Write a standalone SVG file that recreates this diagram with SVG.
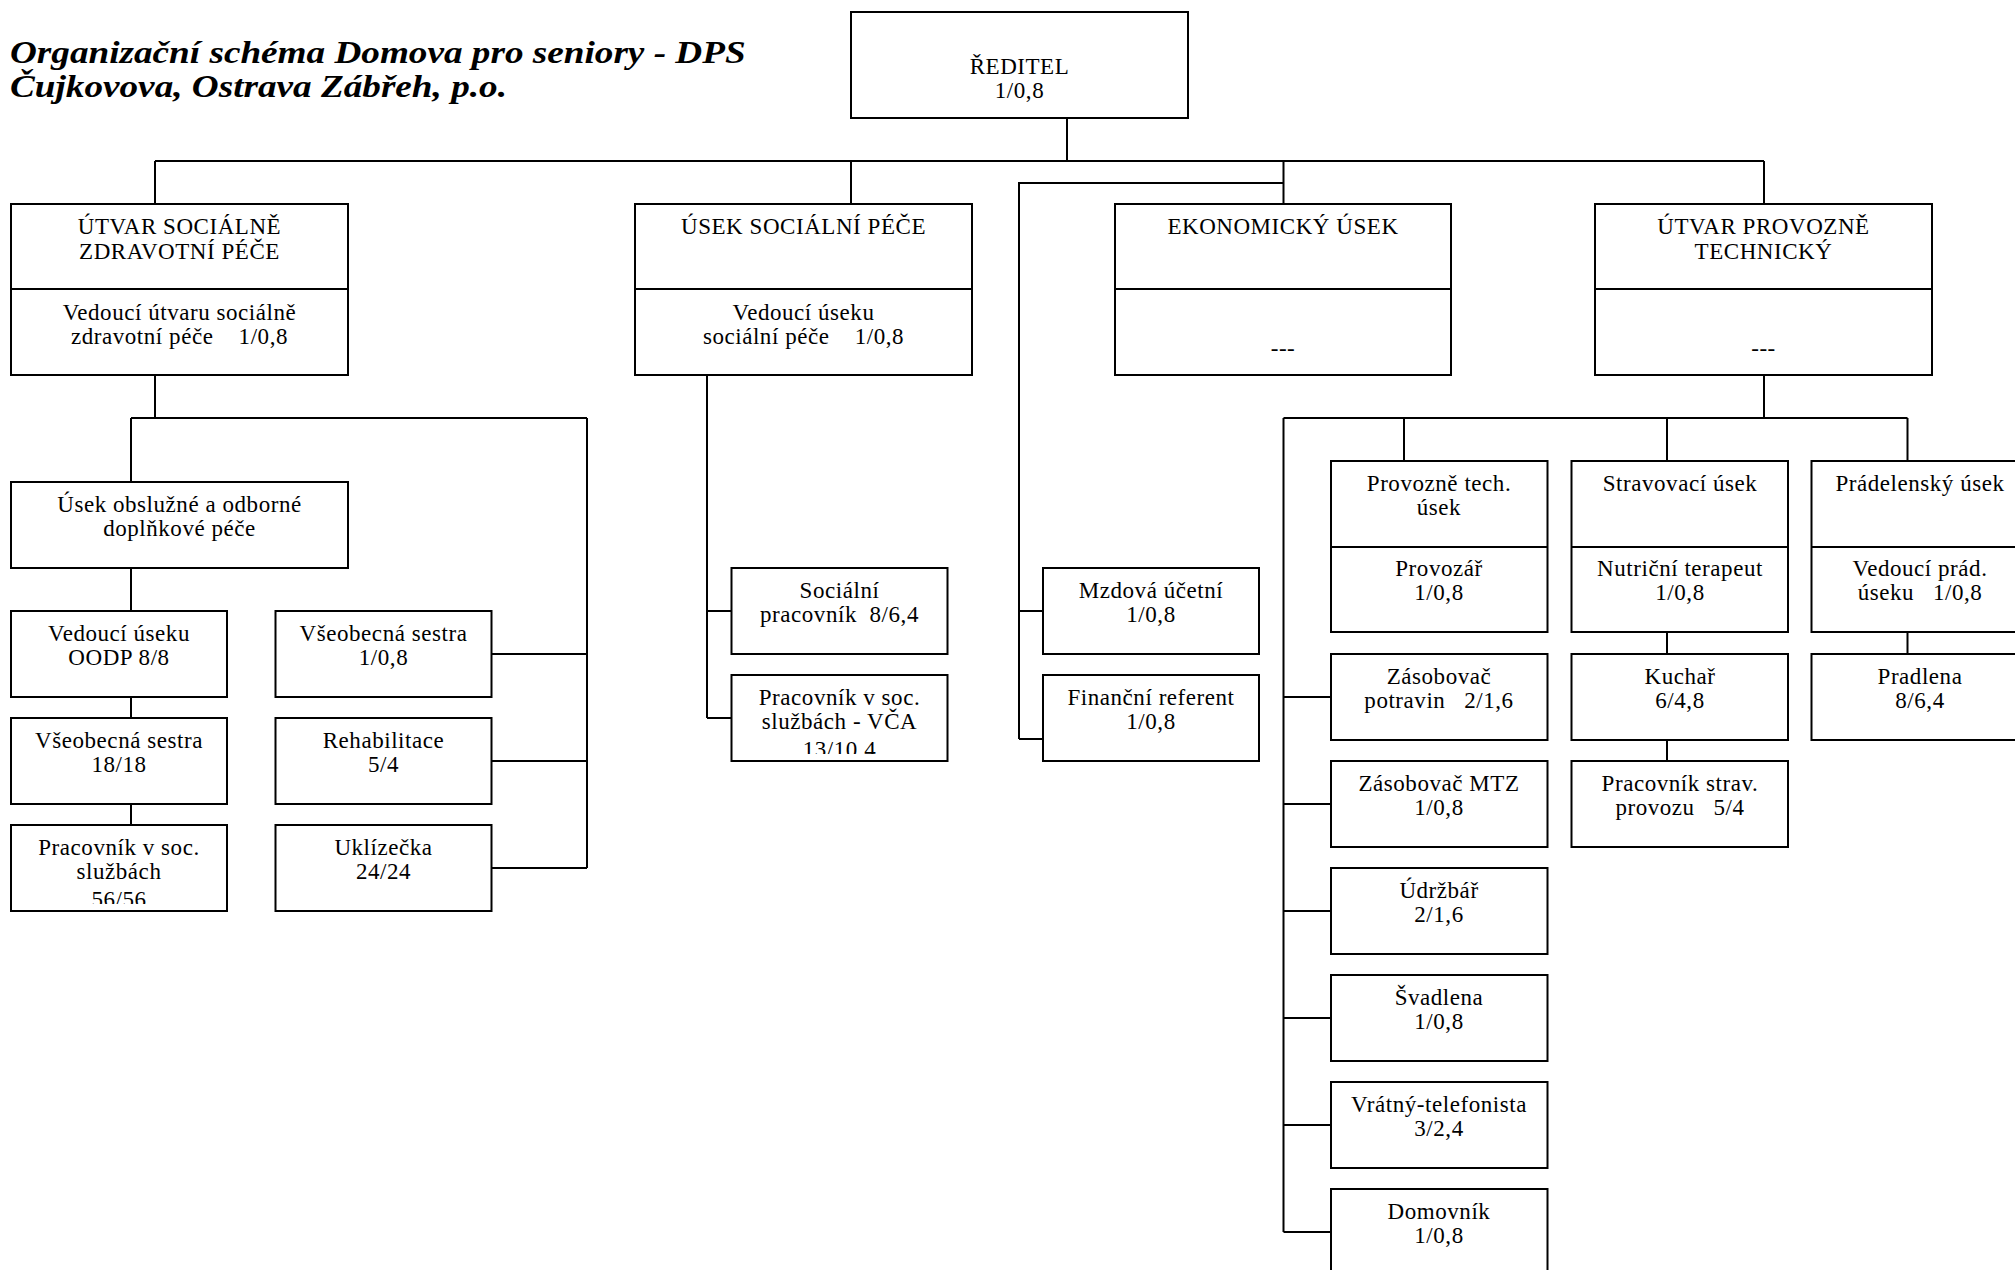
<svg xmlns="http://www.w3.org/2000/svg" width="2015" height="1270" viewBox="0 0 2015 1270">
<style>
.box{fill:#fff;stroke:#000;stroke-width:2}
.div{stroke:#000;stroke-width:2}
.c{fill:none;stroke:#000;stroke-width:2}
.t{font-family:"Liberation Serif","Times New Roman",serif;font-size:23px;letter-spacing:0.55px;text-anchor:middle;fill:#000}
.title{font-family:"Liberation Serif","Times New Roman",serif;font-size:31px;font-weight:bold;font-style:italic;fill:#000}
</style>
<defs>
<clipPath id="clipA"><rect x="11" y="825" width="216" height="79"/></clipPath>
<clipPath id="clipB"><rect x="731" y="675" width="216" height="79"/></clipPath>
</defs>
<rect width="2015" height="1270" fill="#fff"/>

<g id="title">
<g transform="translate(10,63) scale(1.2,1)"><text class="title" x="0" y="0">Organizační schéma Domova pro seniory - DPS</text></g>
<g transform="translate(10,97) scale(1.2,1)"><text class="title" x="0" y="0">Čujkovova, Ostrava Zábřeh, p.o.</text></g>
</g>

<g id="connectors">
<path class="c" d="M1067 118V161M155 161H1764M155 161V204M851 161V204M1283.5 161V204M1764 161V204"/>
<path class="c" d="M1283.5 183H1019V739M1019 611H1043M1019 739H1043"/>
<path class="c" d="M155 375V418M131 418H587M131 418V482M587 418V868M131 568V611M131 697V718M131 804V825M491 654H587M491 761H587M491 868H587"/>
<path class="c" d="M707 375V718M707 611H731.5M707 718H731.5"/>
<path class="c" d="M1764 375V418M1283.5 418H1907.5M1404 418V461M1667 418V461M1907.5 418V461M1283.5 418V1232M1283.5 697H1331M1283.5 804H1331M1283.5 911H1331M1283.5 1018H1331M1283.5 1125H1331M1283.5 1232H1331M1667 632V654M1667 740V761M1907.5 632V654"/>
</g>

<g id="reditel">
<rect class="box" x="851" y="12" width="337" height="106"/>
<text class="t" x="1019.5" y="74">ŘEDITEL</text>
<text class="t" x="1019.5" y="98">1/0,8</text>
</g>

<g id="utvar-socialne-zdravotni">
<rect class="box" x="11" y="204" width="337" height="171"/>
<line class="div" x1="11" y1="289" x2="348" y2="289"/>
<text class="t" x="179.5" y="234">ÚTVAR SOCIÁLNĚ</text>
<text class="t" x="179.5" y="259">ZDRAVOTNÍ PÉČE</text>
<text class="t" x="179.5" y="320">Vedoucí útvaru sociálně</text>
<text class="t" x="179.5" y="344" xml:space="preserve">zdravotní péče    1/0,8</text>
</g>

<g id="usek-socialni-pece">
<rect class="box" x="635" y="204" width="337" height="171"/>
<line class="div" x1="635" y1="289" x2="972" y2="289"/>
<text class="t" x="803.5" y="234">ÚSEK SOCIÁLNÍ PÉČE</text>
<text class="t" x="803.5" y="320">Vedoucí úseku</text>
<text class="t" x="803.5" y="344" xml:space="preserve">sociální péče    1/0,8</text>
</g>

<g id="ekonomicky-usek">
<rect class="box" x="1115" y="204" width="336" height="171"/>
<line class="div" x1="1115" y1="289" x2="1451" y2="289"/>
<text class="t" x="1283" y="234">EKONOMICKÝ ÚSEK</text>
<text class="t" x="1283" y="356">---</text>
</g>

<g id="utvar-provozne-technicky">
<rect class="box" x="1595" y="204" width="337" height="171"/>
<line class="div" x1="1595" y1="289" x2="1932" y2="289"/>
<text class="t" x="1763.5" y="234">ÚTVAR PROVOZNĚ</text>
<text class="t" x="1763.5" y="259">TECHNICKÝ</text>
<text class="t" x="1763.5" y="356">---</text>
</g>

<g id="usek-obsluzne">
<rect class="box" x="11" y="482" width="337" height="86"/>
<text class="t" x="179.5" y="512">Úsek obslužné a odborné</text>
<text class="t" x="179.5" y="536">doplňkové péče</text>
</g>

<g id="vedouci-oodp">
<rect class="box" x="11" y="611" width="216" height="86"/>
<text class="t" x="119" y="641">Vedoucí úseku</text>
<text class="t" x="119" y="665">OODP 8/8</text>
</g>
<g id="vseobecna-sestra-18">
<rect class="box" x="11" y="718" width="216" height="86"/>
<text class="t" x="119" y="748">Všeobecná sestra</text>
<text class="t" x="119" y="772">18/18</text>
</g>
<g id="pracovnik-soc-sluzby">
<rect class="box" x="11" y="825" width="216" height="86"/>
<g clip-path="url(#clipA)">
<text class="t" x="119" y="855">Pracovník v soc.</text>
<text class="t" x="119" y="879">službách</text>
<text class="t" x="119" y="907">56/56</text>
</g>
</g>

<g id="vseobecna-sestra-1">
<rect class="box" x="275.5" y="611" width="216" height="86"/>
<text class="t" x="383.5" y="641">Všeobecná sestra</text>
<text class="t" x="383.5" y="665">1/0,8</text>
</g>
<g id="rehabilitace">
<rect class="box" x="275.5" y="718" width="216" height="86"/>
<text class="t" x="383.5" y="748">Rehabilitace</text>
<text class="t" x="383.5" y="772">5/4</text>
</g>
<g id="uklizecka">
<rect class="box" x="275.5" y="825" width="216" height="86"/>
<text class="t" x="383.5" y="855">Uklízečka</text>
<text class="t" x="383.5" y="879">24/24</text>
</g>

<g id="socialni-pracovnik">
<rect class="box" x="731.5" y="568" width="216" height="86"/>
<text class="t" x="839.5" y="598">Sociální</text>
<text class="t" x="839.5" y="622" xml:space="preserve">pracovník  8/6,4</text>
</g>
<g id="pracovnik-vca">
<rect class="box" x="731.5" y="675" width="216" height="86"/>
<g clip-path="url(#clipB)">
<text class="t" x="839.5" y="705">Pracovník v soc.</text>
<text class="t" x="839.5" y="729">službách - VČA</text>
<text class="t" x="839.5" y="757">13/10.4</text>
</g>
</g>

<g id="mzdova-ucetni">
<rect class="box" x="1043" y="568" width="216" height="86"/>
<text class="t" x="1151" y="598">Mzdová účetní</text>
<text class="t" x="1151" y="622">1/0,8</text>
</g>
<g id="financni-referent">
<rect class="box" x="1043" y="675" width="216" height="86"/>
<text class="t" x="1151" y="705">Finanční referent</text>
<text class="t" x="1151" y="729">1/0,8</text>
</g>

<g id="provozne-tech-usek">
<rect class="box" x="1331" y="461" width="216.5" height="171"/>
<line class="div" x1="1331" y1="547" x2="1547.5" y2="547"/>
<text class="t" x="1439" y="491">Provozně tech.</text>
<text class="t" x="1439" y="515">úsek</text>
<text class="t" x="1439" y="576">Provozář</text>
<text class="t" x="1439" y="600">1/0,8</text>
</g>
<g id="stravovaci-usek">
<rect class="box" x="1571.5" y="461" width="216.5" height="171"/>
<line class="div" x1="1571.5" y1="547" x2="1788" y2="547"/>
<text class="t" x="1680" y="491">Stravovací úsek</text>
<text class="t" x="1680" y="576">Nutriční terapeut</text>
<text class="t" x="1680" y="600">1/0,8</text>
</g>
<g id="pradelensky-usek">
<rect class="box" x="1811.5" y="461" width="216.5" height="171"/>
<line class="div" x1="1811.5" y1="547" x2="2028" y2="547"/>
<text class="t" x="1920" y="491">Prádelenský úsek</text>
<text class="t" x="1920" y="576">Vedoucí prád.</text>
<text class="t" x="1920" y="600" xml:space="preserve">úseku   1/0,8</text>
</g>

<g id="zasobovac-potravin">
<rect class="box" x="1331" y="654" width="216.5" height="86"/>
<text class="t" x="1439" y="684">Zásobovač</text>
<text class="t" x="1439" y="708" xml:space="preserve">potravin   2/1,6</text>
</g>
<g id="kuchar">
<rect class="box" x="1571.5" y="654" width="216.5" height="86"/>
<text class="t" x="1680" y="684">Kuchař</text>
<text class="t" x="1680" y="708">6/4,8</text>
</g>
<g id="pradlena">
<rect class="box" x="1811.5" y="654" width="216.5" height="86"/>
<text class="t" x="1920" y="684">Pradlena</text>
<text class="t" x="1920" y="708">8/6,4</text>
</g>
<g id="zasobovac-mtz">
<rect class="box" x="1331" y="761" width="216.5" height="86"/>
<text class="t" x="1439" y="791">Zásobovač MTZ</text>
<text class="t" x="1439" y="815">1/0,8</text>
</g>
<g id="pracovnik-strav">
<rect class="box" x="1571.5" y="761" width="216.5" height="86"/>
<text class="t" x="1680" y="791">Pracovník strav.</text>
<text class="t" x="1680" y="815" xml:space="preserve">provozu   5/4</text>
</g>
<g id="udrzbar">
<rect class="box" x="1331" y="868" width="216.5" height="86"/>
<text class="t" x="1439" y="898">Údržbář</text>
<text class="t" x="1439" y="922">2/1,6</text>
</g>
<g id="svadlena">
<rect class="box" x="1331" y="975" width="216.5" height="86"/>
<text class="t" x="1439" y="1005">Švadlena</text>
<text class="t" x="1439" y="1029">1/0,8</text>
</g>
<g id="vratny">
<rect class="box" x="1331" y="1082" width="216.5" height="86"/>
<text class="t" x="1439" y="1112">Vrátný-telefonista</text>
<text class="t" x="1439" y="1136">3/2,4</text>
</g>
<g id="domovnik">
<rect class="box" x="1331" y="1189" width="216.5" height="86"/>
<text class="t" x="1439" y="1219">Domovník</text>
<text class="t" x="1439" y="1243">1/0,8</text>
</g>
</svg>
